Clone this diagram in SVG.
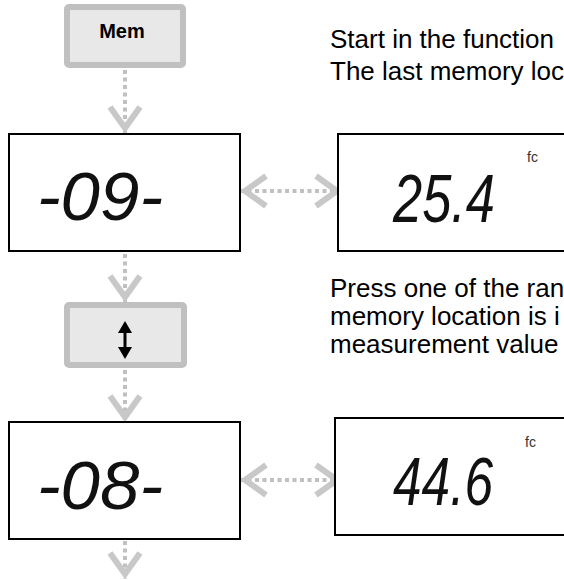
<svg xmlns="http://www.w3.org/2000/svg" width="564" height="580" viewBox="0 0 564 580">
  <style>
    .key { fill: #e8e8e8; stroke: #c0c0c0; stroke-width: 6; }
    .lcd { fill: #ffffff; stroke: #000000; stroke-width: 2; }
    .keytxt { font-family: "Liberation Sans", Arial, sans-serif; font-weight: bold; font-size: 20px; fill: #000; }
    .desc { font-family: "Liberation Sans", Arial, sans-serif; font-size: 26px; fill: #000; }
    .seg { font-family: "Liberation Sans", Arial, sans-serif; font-style: italic; font-size: 68px; fill: #111; }
    .unit { font-family: "Liberation Sans", Arial, sans-serif; font-size: 14px; fill: #333; }
    .conn { fill: none; stroke: #c0c0c0; stroke-width: 4; stroke-dasharray: 4 3.5; }
    .chev { fill: none; stroke: #c8c8c8; stroke-width: 6; stroke-dasharray: none; stroke-linejoin: miter; }
  </style>
  <defs>
    <marker id="chev" viewBox="-30 -20 32 40" refX="0" refY="0" markerWidth="32" markerHeight="40" markerUnits="userSpaceOnUse" orient="auto-start-reverse">
      <path class="chev" d="M-26,-15 L-5,0 L-26,15"/>
    </marker>
  </defs>

  <g id="connectors">
    <line class="conn" x1="125" y1="70" x2="125" y2="133" marker-end="url(#chev)"/>
    <line class="conn" x1="125" y1="254" x2="125" y2="302" marker-end="url(#chev)"/>
    <line class="conn" x1="125" y1="370" x2="125" y2="422" marker-end="url(#chev)"/>
    <line class="conn" x1="125" y1="541" x2="125" y2="579" marker-end="url(#chev)"/>
    <line class="conn" x1="240" y1="191" x2="342" y2="191" marker-start="url(#chev)" marker-end="url(#chev)"/>
    <line class="conn" x1="240" y1="480" x2="342" y2="480" marker-start="url(#chev)" marker-end="url(#chev)"/>
  </g>

  <g id="mem">
    <rect class="key" x="67" y="7" width="116" height="58" rx="2"/>
    <text class="keytxt" x="122" y="38" text-anchor="middle">Mem</text>
  </g>

  <g id="display1">
    <rect class="lcd" x="9" y="134" width="231" height="117"/>
    <text class="seg" x="37" y="220" textLength="126" lengthAdjust="spacingAndGlyphs">-09-</text>
  </g>

  <g id="value1">
    <rect class="lcd" x="338" y="134" width="240" height="117"/>
    <text class="seg" x="393" y="222" textLength="102" lengthAdjust="spacingAndGlyphs">25.4</text>
    <text class="unit" x="527" y="162">fc</text>
  </g>

  <g id="updown">
    <rect class="key" x="67" y="305" width="117" height="60" rx="2"/>
    <line x1="125" y1="330" x2="125" y2="350" stroke="#000" stroke-width="3"/>
    <polygon points="125,321 118,333 132,333" fill="#000"/>
    <polygon points="125,359 118,347 132,347" fill="#000"/>
  </g>

  <g id="display2">
    <rect class="lcd" x="9" y="422" width="231" height="117"/>
    <text class="seg" x="37" y="509" textLength="126" lengthAdjust="spacingAndGlyphs">-08-</text>
  </g>

  <g id="value2">
    <rect class="lcd" x="335" y="418" width="240" height="117"/>
    <text class="seg" x="393" y="505" textLength="100" lengthAdjust="spacingAndGlyphs">44.6</text>
    <text class="unit" x="525" y="447">fc</text>
  </g>

  <g id="text1">
    <text class="desc" x="330" y="48">Start in the function</text>
    <text class="desc" x="330" y="80">The last memory loc</text>
  </g>

  <g id="text2">
    <text class="desc" x="330" y="297">Press one of the ran</text>
    <text class="desc" x="330" y="325">memory location is i</text>
    <text class="desc" x="330" y="353">measurement value</text>
  </g>
</svg>
